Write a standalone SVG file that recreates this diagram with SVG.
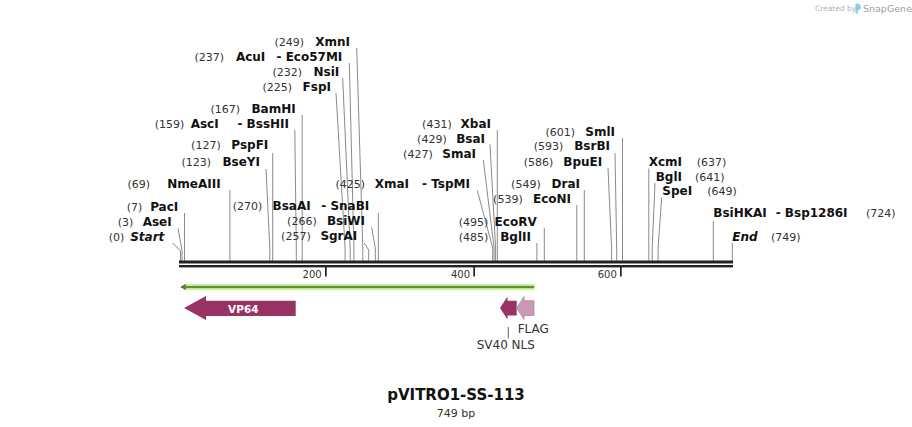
<svg xmlns="http://www.w3.org/2000/svg" width="912" height="427" viewBox="0 0 912 427">
<style>
text{font-family:"DejaVu Sans",Verdana,sans-serif}
.n{font-size:11px;fill:#333}
.e{font-size:12px;font-weight:bold;fill:#111}
.it{font-style:italic}
.r{text-anchor:end}
.ld{fill:none;stroke:#8a8a8a;stroke-width:1}
.tk{font-size:10px;fill:#333;text-anchor:end}
.fl{font-size:12px;fill:#333}
.bb{fill:#222}
</style>
<rect width="912" height="427" fill="#fff"/>
<g id="watermark">
<text x="815" y="11" style="font-size:7.5px;fill:#b0b0b0">Created by</text>
<path d="M855.5 3.5 Q861 3 861 7.5 Q861 10 858 10 L858 13.5 L855.5 13.5 Z" fill="#8ccbea"/>
<text x="863" y="11.5" style="font-size:9.5px;fill:#a0a0a0">SnapGene</text>
</g>
<g id="connectors">
<path class="ld" d="M356.7 48 L362.8 248 V261"/>
<path class="ld" d="M349.3 63 L353.9 248 V261"/>
<path class="ld" d="M342.7 78 L350.2 248 V261"/>
<path class="ld" d="M336 93 L345.1 248 V261"/>
<path class="ld" d="M302.2 115 V261"/>
<path class="ld" d="M294.8 130 L296.3 248 V261"/>
<path class="ld" d="M272.7 153 V261"/>
<path class="ld" d="M266 169 L269.8 248 V261"/>
<path class="ld" d="M229.9 190 V261"/>
<path class="ld" d="M184.5 213 V261"/>
<path class="ld" d="M178 228.5 L182 250 V261"/>
<path class="ld" d="M172.7 243 L180.5 251 V261"/>
<path class="ld" d="M378.3 213 V261"/>
<path class="ld" d="M371.7 227.5 L375.3 248 V261"/>
<path class="ld" d="M364.3 243 L368.7 250 V261"/>
<path class="ld" d="M497.3 130 V261"/>
<path class="ld" d="M490 144.5 L495.6 248 V261"/>
<path class="ld" d="M483.3 160 L494.1 248 V261"/>
<path class="ld" d="M477.3 190.5 L492.7 248 V261"/>
<path class="ld" d="M584.3 190 V261"/>
<path class="ld" d="M576.8 205 V261"/>
<path class="ld" d="M544.3 228 V261"/>
<path class="ld" d="M536.9 243 V261"/>
<path class="ld" d="M622.5 138 V261"/>
<path class="ld" d="M615 153 L616.7 248 V261"/>
<path class="ld" d="M608 168 L611.6 248 V261"/>
<path class="ld" d="M648.8 168.5 V261"/>
<path class="ld" d="M655 183 L652.2 248 V261"/>
<path class="ld" d="M661.7 197.5 L658.1 248 V261"/>
<path class="ld" d="M713.3 221 V261"/>
<path class="ld" d="M732.3 243 V261"/>
<path d="M508.3 327 V338.5" stroke="#666" stroke-width="1"/>
</g>
<g id="backbone">
<rect class="bb" x="179" y="260.5" width="554" height="3"/>
<rect class="bb" x="179" y="265" width="554" height="2.4"/>
<rect class="bb" x="325" y="267" width="1.7" height="9.5"/>
<rect class="bb" x="473.3" y="267" width="1.7" height="9.5"/>
<rect class="bb" x="620" y="267" width="1.7" height="9.5"/>
<text class="tk" x="321.7" y="277.5">200</text>
<text class="tk" x="470" y="277.5">400</text>
<text class="tk" x="616.8" y="277.5">600</text>
</g>
<g id="XmnI"><text class="n r" x="304" y="46">(249)</text><text class="e r" x="350" y="46">XmnI</text></g>
<g id="AcuI"><text class="n r" x="224" y="61">(237)</text><text class="e r" x="265.3" y="61">AcuI</text><text class="e r" x="342.3" y="61">- Eco57MI</text></g>
<g id="NsiI"><text class="n r" x="302" y="76">(232)</text><text class="e r" x="339.3" y="76">NsiI</text></g>
<g id="FspI"><text class="n r" x="292" y="91">(225)</text><text class="e r" x="331" y="91">FspI</text></g>
<g id="BamHI"><text class="n r" x="240" y="112.5">(167)</text><text class="e r" x="295.7" y="112.5">BamHI</text></g>
<g id="AscI"><text class="n r" x="184.3" y="127.5">(159)</text><text class="e r" x="218.7" y="127.5">AscI</text><text class="e r" x="289" y="127.5">- BssHII</text></g>
<g id="PspFI"><text class="n r" x="220.7" y="148.5">(127)</text><text class="e r" x="268.3" y="148.5">PspFI</text></g>
<g id="BseYI"><text class="n r" x="211" y="166">(123)</text><text class="e r" x="260" y="166">BseYI</text></g>
<g id="NmeAIII"><text class="n r" x="150" y="187.5">(69)</text><text class="e r" x="220.7" y="187.5">NmeAIII</text></g>
<g id="PacI"><text class="n r" x="142.3" y="211">(7)</text><text class="e r" x="178.3" y="211">PacI</text></g>
<g id="AseI"><text class="n r" x="133.3" y="226">(3)</text><text class="e r" x="171.7" y="226">AseI</text></g>
<g id="Start"><text class="n r" x="124.3" y="240.5">(0)</text><text class="e r it" x="164.3" y="240.5">Start</text></g>
<g id="BsaAI"><text class="n r" x="262.3" y="210">(270)</text><text class="e r" x="310.7" y="210">BsaAI</text><text class="e r" x="369.3" y="210">- SnaBI</text></g>
<g id="BsiWI"><text class="n r" x="316.7" y="225">(266)</text><text class="e r" x="365" y="225">BsiWI</text></g>
<g id="SgrAI"><text class="n r" x="310.7" y="240">(257)</text><text class="e r" x="357.3" y="240">SgrAI</text></g>
<g id="XbaI"><text class="n r" x="451.7" y="127.5">(431)</text><text class="e r" x="491" y="127.5">XbaI</text></g>
<g id="BsaI"><text class="n r" x="446.7" y="142.5">(429)</text><text class="e r" x="485" y="142.5">BsaI</text></g>
<g id="SmaI"><text class="n r" x="432.7" y="157.7">(427)</text><text class="e r" x="476" y="157.7">SmaI</text></g>
<g id="XmaI"><text class="n r" x="365" y="188">(425)</text><text class="e r" x="409" y="188">XmaI</text><text class="e r" x="470" y="188">- TspMI</text></g>
<g id="DraI"><text class="n r" x="540.7" y="187.5">(549)</text><text class="e r" x="580" y="187.5">DraI</text></g>
<g id="EcoNI"><text class="n r" x="522.7" y="202.7">(539)</text><text class="e r" x="571" y="202.7">EcoNI</text></g>
<g id="EcoRV"><text class="n r" x="488.3" y="225.7">(495)</text><text class="e r" x="536.7" y="225.7">EcoRV</text></g>
<g id="BglII"><text class="n r" x="488.3" y="240.7">(485)</text><text class="e r" x="531" y="240.7">BglII</text></g>
<g id="SmlI"><text class="n r" x="575" y="135.7">(601)</text><text class="e r" x="615" y="135.7">SmlI</text></g>
<g id="BsrBI"><text class="n r" x="563.3" y="150.3">(593)</text><text class="e r" x="610" y="150.3">BsrBI</text></g>
<g id="BpuEI"><text class="n r" x="553.3" y="165.7">(586)</text><text class="e r" x="602.3" y="165.7">BpuEI</text></g>
<g id="XcmI"><text class="e" x="648.7" y="165.7">XcmI</text><text class="n" x="696.7" y="165.7">(637)</text></g>
<g id="BglI"><text class="e" x="655.7" y="180.7">BglI</text><text class="n" x="695" y="180.7">(641)</text></g>
<g id="SpeI"><text class="e" x="662.3" y="195">SpeI</text><text class="n" x="707.3" y="195">(649)</text></g>
<g id="BsiHKAI"><text class="e" x="713.3" y="217.3">BsiHKAI</text><text class="e" x="775.7" y="217.3">- Bsp1286I</text><text class="n" x="866" y="217.3">(724)</text></g>
<g id="End"><text class="e it" x="732.3" y="240.7">End</text><text class="n" x="771" y="240.7">(749)</text></g>
<g id="ORF">
<path d="M534.5 284.3 H187 L180.5 287 L187 289.7 H534.5 Z" fill="#b7ef82"/>
<path d="M534 287 H182" stroke="#4f6a2a" stroke-width="1.4"/>
<path d="M186 284.6 L181.5 287 L186 289.4" fill="none" stroke="#4f6a2a" stroke-width="1.2"/>
</g>
<g id="VP64">
<path d="M184 308 L206 296 V300.7 H295.7 V316 H206 V320 Z" fill="#993366"/>
<text x="243.3" y="312.5" style="font-size:10.5px;font-weight:bold;fill:#fff;text-anchor:middle">VP64</text>
</g>
<g id="SV40_NLS">
<path d="M500 308 L507.5 296.5 V300.7 H516.7 V315.5 H507.5 V319.5 Z" fill="#993366"/>
<text class="fl" x="505.8" y="349" text-anchor="middle">SV40 NLS</text>
</g>
<g id="FLAG">
<path d="M516.7 308 L524 296.5 V300.7 H534 V315.5 H524 V319.5 Z" fill="#cc99b3" stroke="#a06f88" stroke-width="0.6"/>
<text class="fl" x="517.7" y="333.3">FLAG</text>
</g>
<g id="title">
<text x="456" y="400" style="font-size:15px;font-weight:bold;fill:#111;text-anchor:middle">pVITRO1-SS-113</text>
<text x="456" y="416.5" style="font-size:11px;fill:#333;text-anchor:middle">749 bp</text>
</g>
</svg>
